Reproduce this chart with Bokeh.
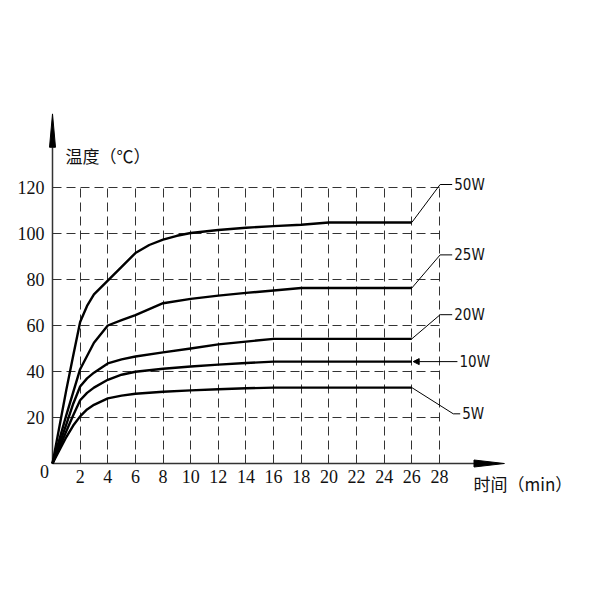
from bokeh.plotting import figure
from bokeh.models import Range1d, Arrow, NormalHead, FixedTicker
from bokeh.core.properties import value
from bokeh.embed import file_html
from bokeh.resources import INLINE

# heating curves, temperature (C) against time (min)
time_5w = [0, 1, 1.5, 2, 2.5, 3, 4, 5, 6, 8, 10, 12, 14, 16, 26]
temp_5w = [0, 11.5, 16.5, 20.5, 23.5, 25.5, 28.3, 29.5, 30.3, 31.2, 31.8, 32.3, 32.7, 33, 33]
time_10w = [0, 1, 1.5, 2, 2.5, 3, 4, 5, 6, 8, 10, 12, 14, 16, 26]
temp_10w = [0, 14, 21, 27.5, 30.7, 33, 36.4, 38.6, 39.9, 41.2, 42.2, 43, 43.7, 44.3, 44.3]
time_20w = [0, 1, 1.5, 2, 2.5, 3, 4, 5, 6, 8, 10, 12, 14, 16, 26]
temp_20w = [0, 17, 26, 33.5, 37, 39.5, 43.5, 45.3, 46.5, 48.3, 50, 51.8, 53, 54.2, 54.2]
time_25w = [0, 1, 2, 3, 4, 5, 6, 8, 10, 12, 14, 16, 18, 26]
temp_25w = [0, 21, 41, 52.5, 60, 62.3, 64.5, 69.7, 71.6, 73, 74.2, 75.2, 76.3, 76.3]
time_50w = [0, 1, 1.5, 2, 2.5, 3, 4, 5, 6, 7, 8, 9, 10, 12, 14, 16, 18, 20, 26]
temp_50w = [0, 32, 47, 61.5, 68.5, 73.5, 79.5, 85.5, 91.5, 95, 97.3, 99, 100.2, 101.5,
            102.5, 103.2, 103.8, 104.8, 104.8]

series_names = ["50W", "25W", "20W", "10W", "5W"]
series_times = [time_50w, time_25w, time_20w, time_10w, time_5w]
series_temps = [temp_50w, temp_25w, temp_20w, temp_10w, temp_5w]

x_ticks = [2, 4, 6, 8, 10, 12, 14, 16, 18, 20, 22, 24, 26, 28]
y_ticks = [20, 40, 60, 80, 100, 120]

x_title = "时间（min）"
y_title = "温度（℃）"

# where the leader lines go (data units)
label_y = [121.3, 90.7, 64.7, 44.3, 21.6]
knee_x = [28.05, 28.05, 28.05, 26.3, 29.0]
dash_end_x = [28.92, 28.92, 28.92, 29.3, 29.5]
arrow_leader = [False, False, False, True, False]

# layout: the frame fills the whole canvas, origin sits at pixel (52, 463)
W, H = 600, 600
PX_X = 13.82   # pixels per minute
PX_Y = 2.3     # pixels per degree
ORIGIN_X, ORIGIN_Y = 52, 463
x_start = -ORIGIN_X / PX_X
x_end = x_start + W / PX_X
y_start = -(H - ORIGIN_Y) / PX_Y
y_end = y_start + H / PX_Y

Y_TIP, Y_BASE = 152, 137.5
X_TIP, X_BASE = 32.7, 30.5

NUM_FONT = "Liberation Serif"
TAG_FONT = "DejaVu Sans Condensed"
CJK_FONT = "Noto Sans CJK SC"
INK = "#111111"
AXIS = "#333333"

p = figure(width=W, height=H, output_backend="svg", toolbar_location=None,
           title=None, x_axis_location=None, y_axis_location=None,
           x_range=Range1d(x_start, x_end), y_range=Range1d(y_start, y_end),
           min_border=0)
p.outline_line_color = None
p.background_fill_color = "white"
p.border_fill_color = "white"

# dashed grid only over the 0-28 x 0-120 box
p.xgrid.ticker = FixedTicker(ticks=x_ticks)
p.ygrid.ticker = FixedTicker(ticks=y_ticks)
p.grid.grid_line_color = "#333333"
p.grid.grid_line_width = 1
p.grid.grid_line_dash = "9 5"
p.xgrid.cross_bounds = (0, 120)
p.ygrid.cross_bounds = (0, 28)

# axis lines with long arrow heads
p.line([0, 0], [0, Y_BASE], line_color=AXIS, line_width=1.5)
p.line([0, X_BASE], [0, 0], line_color=AXIS, line_width=1.5)
hw = 3 / PX_X
hh = 3.5 / PX_Y
p.patch([0, -hw, hw], [Y_TIP, Y_BASE, Y_BASE], color="black")
p.patch([X_TIP, X_BASE, X_BASE], [0, hh, -hh], color="black")

# tick labels
p.text(x=[-8 / PX_X] * len(y_ticks), y=y_ticks, text=[str(t) for t in y_ticks],
       text_font=value(NUM_FONT), text_font_size="18px", text_color=INK,
       text_align="right", text_baseline="middle")
p.text(x=x_ticks, y=[-13 / PX_Y] * len(x_ticks), text=[str(t) for t in x_ticks],
       text_font=value(NUM_FONT), text_font_size="18px", text_color=INK,
       text_align="center", text_baseline="middle")
p.text(x=[-8 / PX_X], y=[-8 / PX_Y], text=["0"],
       text_font=value(NUM_FONT), text_font_size="18px", text_color=INK,
       text_align="center", text_baseline="middle")

# curves
for t, v in zip(series_times, series_temps):
    p.line(t, v, line_color="black", line_width=2.4, line_join="round")

# leaders
xs, ys = [], []
for i in range(len(series_names)):
    if arrow_leader[i]:
        continue
    x0, y0 = series_times[i][-1], series_temps[i][-1]
    xs.append([x0, knee_x[i], dash_end_x[i]])
    ys.append([y0, label_y[i], label_y[i]])
p.multi_line(xs, ys, line_color="black", line_width=1)

for i in range(len(series_names)):
    if arrow_leader[i]:
        p.add_layout(Arrow(x_start=dash_end_x[i], y_start=label_y[i],
                           x_end=series_times[i][-1] + 0.1, y_end=series_temps[i][-1],
                           line_width=1, line_color="black",
                           end=NormalHead(size=6, fill_color="black", line_color="black")))

p.text(x=[x + 0.15 for x in dash_end_x], y=label_y, text=series_names,
       text_font=value(TAG_FONT), text_font_size="15px", text_color=INK,
       text_baseline="middle", text_align="left")

# axis titles
p.text(x=[13 / PX_X], y=[308 / PX_Y], text=[y_title],
       text_font=value(CJK_FONT), text_font_size="17px", text_color=INK,
       text_align="left", text_baseline="middle")
p.text(x=[421 / PX_X], y=[-20 / PX_Y], text=[x_title],
       text_font=value(CJK_FONT), text_font_size="17px", text_color=INK,
       text_align="left", text_baseline="middle")

open("out.html", "w").write(file_html(p, INLINE))
